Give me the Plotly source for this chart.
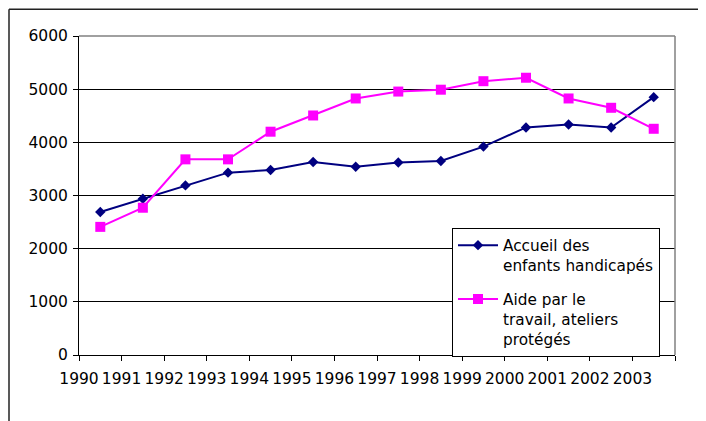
import plotly.graph_objects as go

years = ["1990", "1991", "1992", "1993", "1994", "1995", "1996",
         "1997", "1998", "1999", "2000", "2001", "2002", "2003"]
accueil = [2690, 2940, 3190, 3430, 3480, 3630, 3540,
           3620, 3650, 3920, 4280, 4335, 4280, 4850]
aide = [2410, 2770, 3680, 3680, 4200, 4505, 4825,
        4955, 4990, 5150, 5215, 4825, 4650, 4255]
name_accueil = "Accueil des<br>enfants handicapés"
name_aide = "Aide par le<br>travail, ateliers<br>protégés"
y_ticks = [0, 1000, 2000, 3000, 4000, 5000, 6000]

# the page places the figure 8px in from the top-left corner
OFF = 8
W, H = 706, 421
L, T = 79 - OFF, 36 - OFF
R = W - (675 - OFF)
B = H - (355.5 - OFF)
pw, ph = W - L - R, H - T - B

def px_x(px):
    return (px - OFF - L) / pw

def px_y(py):
    return (H - B - (py - OFF)) / ph

xs = list(range(len(years)))
font = dict(family="DejaVu Sans, Verdana, sans-serif", size=15.5, color="black")

fig = go.Figure()
fig.add_trace(go.Scatter(
    x=xs, y=accueil, name=name_accueil, mode="lines+markers",
    line=dict(color="#000080", width=2),
    marker=dict(symbol="diamond", size=8, color="#000080"),
    legendgroup="a",
))
fig.add_trace(go.Scatter(
    x=xs, y=aide, name=name_aide, mode="lines+markers",
    line=dict(color="#FF00FF", width=2),
    marker=dict(symbol="square", size=10, color="#FF00FF"),
    legendgroup="b",
))

fig.update_layout(
    width=W, height=H,
    margin=dict(l=L, r=R, t=T, b=B, autoexpand=False),
    paper_bgcolor="white", plot_bgcolor="white",
    font=font,
    showlegend=True,
    legend=dict(
        x=px_x(452), y=px_y(228), xanchor="left", yanchor="top",
        bgcolor="white", bordercolor="black", borderwidth=1,
        font=dict(family="DejaVu Sans, Verdana, sans-serif", size=15.3, color="black"),
        valign="top", tracegroupgap=11, itemwidth=40,
        entrywidth=165, entrywidthmode="pixels",
    ),
    xaxis=dict(
        range=[-0.5, len(years) - 0.5],
        tickvals=[i - 0.5 for i in range(len(years) + 1)],
        ticktext=years + [""],
        showgrid=False, zeroline=False,
        showline=True, linecolor="black", linewidth=1,
        ticks="outside", ticklen=5, tickcolor="black",
        ticklabelstandoff=4,
        tickfont=font,
    ),
    yaxis=dict(
        range=[0, 6000], tickvals=y_ticks,
        showgrid=True, gridcolor="black", gridwidth=1,
        zeroline=False,
        showline=True, linecolor="black", linewidth=1,
        ticks="outside", ticklen=5, tickcolor="black",
        ticklabelstandoff=2,
        tickfont=font,
    ),
    shapes=[
        dict(type="line", xref="paper", yref="paper", x0=0, x1=1, y0=1, y1=1,
             line=dict(color="#808080", width=1.5), layer="above"),
        dict(type="line", xref="paper", yref="paper", x0=1, x1=1, y0=0, y1=1,
             line=dict(color="#808080", width=1.5), layer="above"),
        dict(type="line", xref="paper", yref="paper",
             x0=px_x(9), x1=px_x(9), y0=px_y(9.3), y1=px_y(440),
             line=dict(color="#222222", width=1.5)),
        dict(type="line", xref="paper", yref="paper",
             x0=px_x(9), x1=px_x(730), y0=px_y(9.3), y1=px_y(9.3),
             line=dict(color="#222222", width=1.5)),
    ],
)

fig.write_html("out.html")
